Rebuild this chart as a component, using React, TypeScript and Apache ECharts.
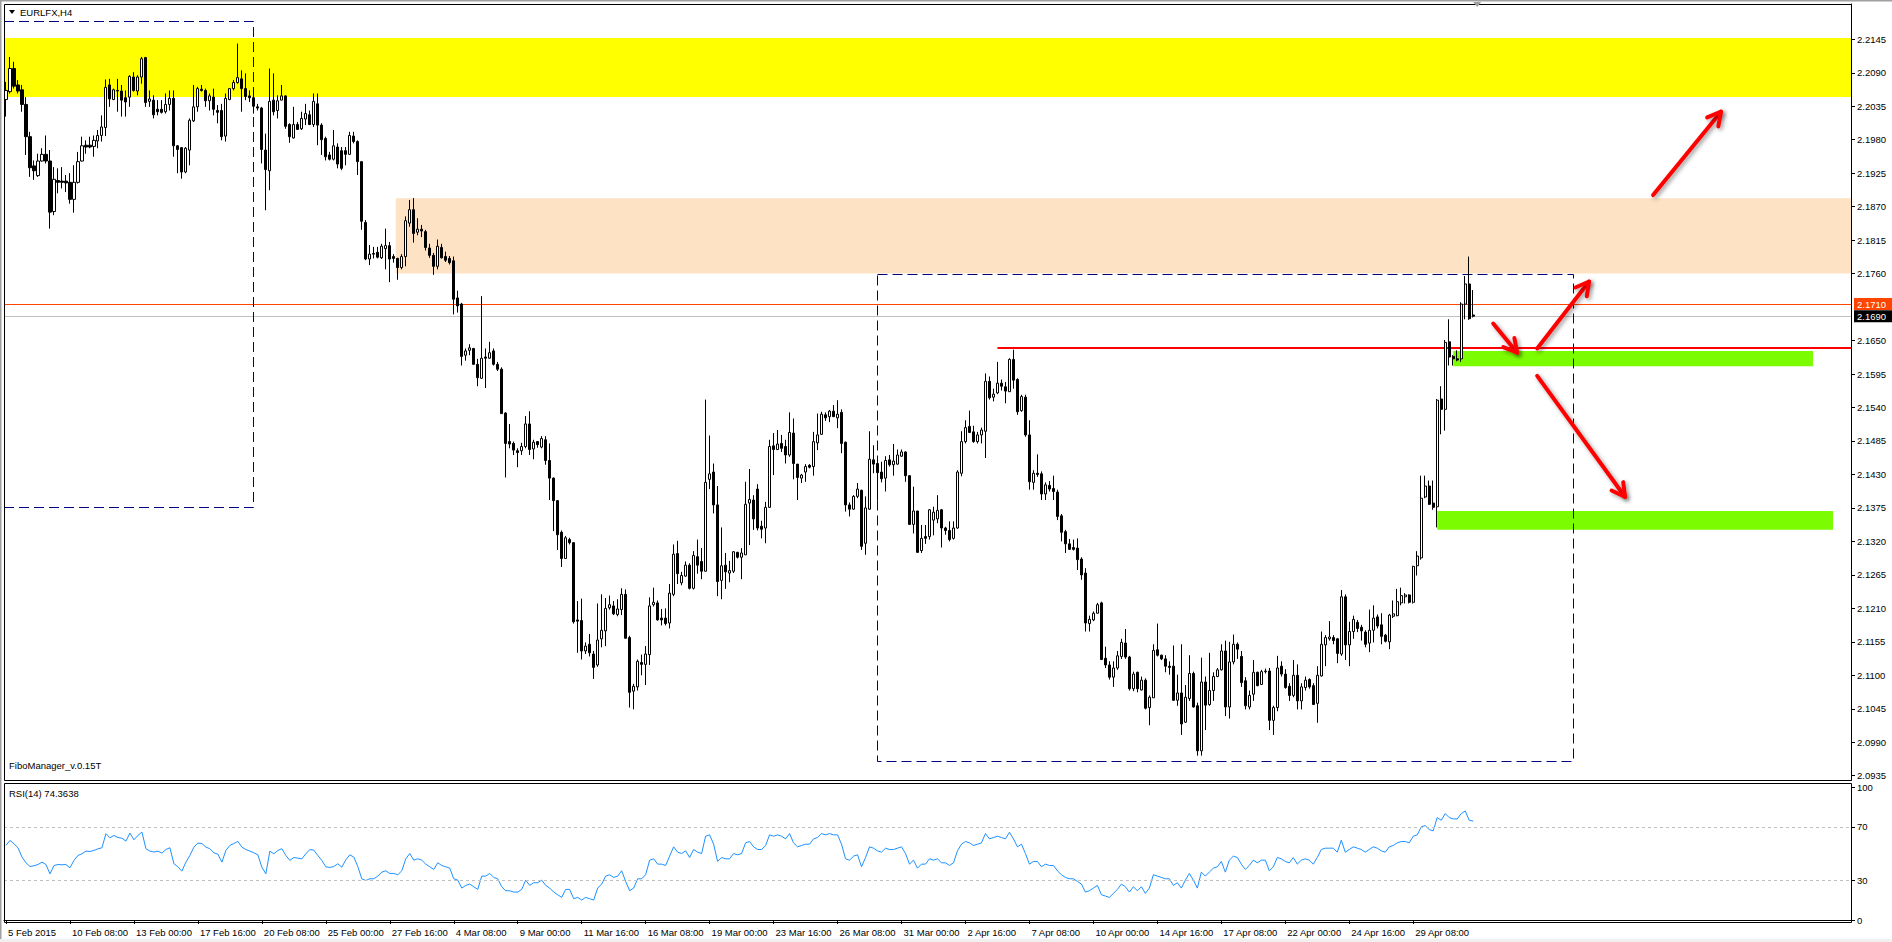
import React, { useEffect, useRef } from "react";
import * as echarts from "echarts";

// ---------- DATA ----------
// each bar: [open, high, low, close]  (EURLFX, H4)
const barsFeb: number[][] = [
  [2.2046,2.2075,2.2018,2.2061],[2.2059,2.2116,2.2056,2.2097],[2.2097,2.2108,2.2064,2.2068],[2.2070,2.2078,2.2056,2.2060],
  [2.2062,2.2070,2.2026,2.2038],[2.2038,2.2050,2.1955,2.1985],[2.1985,2.1993,2.1919,2.1934],[2.1937,2.1946,2.1914,2.1929],
  [2.1921,2.1957,2.1919,2.1945],[2.1945,2.1966,2.1944,2.1956],[2.1956,2.1987,2.1941,2.1945],[2.1945,2.1963,2.1834,2.1861],
  [2.1862,2.1935,2.1856,2.1915],[2.1913,2.1933,2.1892,2.1910],[2.1912,2.1935,2.1900,2.1910],[2.1912,2.1922,2.1894,2.1909],
  [2.1910,2.1925,2.1875,2.1882],[2.1882,2.1938,2.1860,2.1910],[2.1910,2.1960,2.1908,2.1944],[2.1945,2.1985,2.1944,2.1970],
  [2.1971,2.1979,2.1957,2.1968],[2.1971,2.1985,2.1966,2.1968],[2.1969,2.1987,2.1952,2.1979],[2.1978,2.1996,2.1966,2.1987],
  [2.1987,2.2020,2.1977,2.2001],[2.2000,2.2079,2.1986,2.2066],[2.2070,2.2080,2.2034,2.2047],[2.2046,2.2064,2.2045,2.2062],
  [2.2061,2.2080,2.2026,2.2060],[2.2060,2.2070,2.2018,2.2045],[2.2049,2.2061,2.2018,2.2042],[2.2050,2.2086,2.2034,2.2084],
  [2.2083,2.2091,2.2059,2.2061],[2.2060,2.2086,2.2053,2.2083],[2.2083,2.2116,2.2072,2.2113],[2.2115,2.2116,2.2034,2.2041],
  [2.2043,2.2061,2.2034,2.2047],[2.2045,2.2053,2.2015,2.2021],[2.2030,2.2045,2.2020,2.2026],[2.2030,2.2045,2.2023,2.2025],
  [2.2026,2.2056,2.2023,2.2038],[2.2038,2.2061,2.2028,2.2048],[2.2048,2.2061,2.1952,2.1970],[2.1970,2.1971,2.1925,2.1964],
  [2.1967,2.1968,2.1916,2.1927],[2.1927,2.1968,2.1925,2.1966],[2.1963,2.2015,2.1938,2.2012],[2.2011,2.2070,2.2009,2.2034],
  [2.2034,2.2067,2.2026,2.2064],[2.2063,2.2070,2.2059,2.2061],[2.2061,2.2064,2.2034,2.2044],[2.2044,2.2056,2.2028,2.2052],
  [2.2050,2.2064,2.2020,2.2030],[2.2028,2.2037,2.2007,2.2025],[2.2028,2.2039,2.1979,2.1985],[2.1986,2.2056,2.1977,2.2048],
  [2.2046,2.2064,2.2045,2.2064],[2.2064,2.2078,2.2061,2.2074],[2.2074,2.2138,2.2072,2.2082],[2.2080,2.2094,2.2026,2.2064],
  [2.2064,2.2089,2.2045,2.2051],[2.2052,2.2061,2.2042,2.2049],[2.2049,2.2064,2.2023,2.2035],[2.2034,2.2039,2.2028,2.2032],
  [2.2032,2.2034,2.1941,2.1964],[2.1963,2.1990,2.1864,2.1931],[2.1929,2.2097,2.1897,2.2043],[2.2045,2.2089,2.2020,2.2026],
  [2.2028,2.2053,2.2015,2.2044],[2.2045,2.2070,2.2045,2.2052],[2.2052,2.2053,2.1998,2.2002],[2.2005,2.2007,2.1975,2.1985],
  [2.1983,2.2034,2.1982,2.2005],[2.2005,2.2009,2.1996,2.1997],[2.1998,2.2026,2.1996,2.2015],[2.2014,2.2039,2.2004,2.2023],
  [2.2021,2.2028,2.2004,2.2005],[2.2005,2.2056,2.2001,2.2043],[2.2039,2.2056,2.1971,2.2004],[2.2004,2.2007,2.1955,2.1980],
  [2.1982,2.1985,2.1946,2.1952],[2.1955,2.1960,2.1946,2.1948],[2.1948,2.1996,2.1946,2.1970],[2.1968,2.1974,2.1933,2.1940],
  [2.1962,2.1968,2.1930,2.1933],[2.1962,2.1968,2.1938,2.1956],[2.1956,2.1993,2.1955,2.1987],[2.1986,2.1993,2.1974,2.1977],
  [2.1977,2.1979,2.1922,2.1944],[2.1944,2.1944,2.1832,2.1846],[2.1844,2.1848,2.1782,2.1784],[2.1784,2.1807,2.1774,2.1792],
  [2.1793,2.1804,2.1785,2.1792],[2.1795,2.1804,2.1785,2.1787],
];
const barsMar: number[][] = [
  [2.1786,2.1809,2.1784,2.1805],[2.1801,2.1834,2.1767,2.1806],[2.1806,2.1812,2.1746,2.1784],[2.1788,2.1792,2.1778,2.1785],
  [2.1785,2.1786,2.1750,2.1770],[2.1770,2.1792,2.1767,2.1788],[2.1788,2.1854,2.1772,2.1847],[2.1843,2.1881,2.1837,2.1865],
  [2.1865,2.1884,2.1811,2.1826],[2.1828,2.1851,2.1823,2.1833],[2.1833,2.1840,2.1820,2.1830],[2.1829,2.1832,2.1798,2.1803],
  [2.1802,2.1809,2.1786,2.1790],[2.1790,2.1794,2.1758,2.1772],[2.1772,2.1816,2.1767,2.1805],[2.1803,2.1809,2.1785,2.1786],
  [2.1788,2.1796,2.1779,2.1782],[2.1785,2.1789,2.1775,2.1778],[2.1781,2.1788,2.1693,2.1718],[2.1720,2.1732,2.1696,2.1707],
  [2.1710,2.1712,2.1609,2.1624],[2.1626,2.1637,2.1617,2.1633],[2.1634,2.1644,2.1626,2.1638],[2.1637,2.1638,2.1610,2.1611],
  [2.1611,2.1620,2.1575,2.1589],[2.1588,2.1723,2.1587,2.1621],[2.1623,2.1637,2.1572,2.1621],[2.1621,2.1648,2.1620,2.1630],
  [2.1633,2.1637,2.1609,2.1611],[2.1611,2.1615,2.1600,2.1603],[2.1603,2.1606,2.1530,2.1530],[2.1531,2.1532,2.1425,2.1481],
  [2.1484,2.1513,2.1473,2.1480],[2.1481,2.1484,2.1462,2.1470],[2.1469,2.1473,2.1442,2.1466],[2.1469,2.1482,2.1462,2.1476],
  [2.1476,2.1526,2.1473,2.1513],[2.1513,2.1534,2.1462,2.1471],[2.1472,2.1487,2.1455,2.1483],[2.1484,2.1485,2.1474,2.1479],
  [2.1475,2.1493,2.1473,2.1489],[2.1487,2.1493,2.1446,2.1453],[2.1453,2.1481,2.1388,2.1424],[2.1424,2.1425,2.1337,2.1387],
  [2.1387,2.1388,2.1306,2.1331],[2.1335,2.1338,2.1278,2.1292],[2.1292,2.1329,2.1292,2.1326],[2.1323,2.1326,2.1315,2.1318],
  [2.1318,2.1318,2.1185,2.1188],[2.1191,2.1222,2.1137,2.1189],[2.1190,2.1226,2.1126,2.1140],[2.1140,2.1154,2.1135,2.1148],
  [2.1151,2.1168,2.1131,2.1137],[2.1135,2.1140,2.1094,2.1113],[2.1117,2.1218,2.1114,2.1158],[2.1160,2.1233,2.1146,2.1174],
  [2.1173,2.1227,2.1148,2.1210],[2.1211,2.1231,2.1208,2.1216],[2.1214,2.1222,2.1199,2.1201],[2.1200,2.1225,2.1197,2.1209],
  [2.1208,2.1243,2.1199,2.1233],[2.1233,2.1241,2.1160,2.1161],[2.1162,2.1165,2.1047,2.1072],[2.1074,2.1086,2.1044,2.1082],
  [2.1081,2.1126,2.1075,2.1123],[2.1121,2.1134,2.1100,2.1118],[2.1118,2.1148,2.1084,2.1135],[2.1134,2.1228,2.1117,2.1214],
  [2.1216,2.1244,2.1213,2.1220],[2.1219,2.1223,2.1190,2.1191],[2.1194,2.1209,2.1182,2.1191],[2.1194,2.1210,2.1182,2.1185],
  [2.1186,2.1250,2.1177,2.1235],[2.1233,2.1315,2.1230,2.1299],[2.1300,2.1321,2.1250,2.1267],[2.1252,2.1270,2.1248,2.1264],
  [2.1263,2.1287,2.1262,2.1281],[2.1281,2.1284,2.1241,2.1243],[2.1243,2.1304,2.1241,2.1297],[2.1295,2.1323,2.1267,2.1281],
  [2.1287,2.1309,2.1258,2.1271],[2.1271,2.1553,2.1271,2.1417],[2.1422,2.1494,2.1406,2.1431],[2.1434,2.1448,2.1366,2.1380],
  [2.1380,2.1411,2.1230,2.1254],[2.1256,2.1343,2.1225,2.1280],[2.1281,2.1301,2.1242,2.1270],[2.1268,2.1288,2.1253,2.1272],
  [2.1271,2.1304,2.1268,2.1303],[2.1302,2.1303,2.1292,2.1294],
];
const barsApr1: number[][] = [
  [2.1294,2.1309,2.1258,2.1301],[2.1298,2.1418,2.1298,2.1381],[2.1383,2.1439,2.1314,2.1389],[2.1388,2.1396,2.1339,2.1357],
  [2.1406,2.1414,2.1338,2.1342],[2.1345,2.1354,2.1325,2.1340],[2.1342,2.1385,2.1317,2.1376],[2.1376,2.1487,2.1375,2.1476],
  [2.1477,2.1498,2.1429,2.1471],[2.1471,2.1503,2.1470,2.1480],[2.1481,2.1495,2.1467,2.1473],[2.1476,2.1487,2.1448,2.1462],
  [2.1462,2.1532,2.1459,2.1499],[2.1498,2.1522,2.1422,2.1448],[2.1447,2.1447,2.1388,2.1425],[2.1424,2.1431,2.1416,2.1429],
  [2.1434,2.1447,2.1418,2.1443],[2.1445,2.1447,2.1440,2.1442],[2.1443,2.1500,2.1428,2.1484],[2.1482,2.1530,2.1470,2.1495],
  [2.1496,2.1533,2.1495,2.1529],[2.1528,2.1532,2.1518,2.1523],[2.1525,2.1536,2.1516,2.1534],[2.1534,2.1544,2.1525,2.1525],
  [2.1523,2.1552,2.1506,2.1529],[2.1532,2.1537,2.1465,2.1481],[2.1483,2.1484,2.1369,2.1380],[2.1380,2.1384,2.1361,2.1373],
  [2.1373,2.1396,2.1372,2.1394],[2.1394,2.1416,2.1391,2.1406],[2.1404,2.1405,2.1306,2.1312],[2.1317,2.1394,2.1298,2.1375],
  [2.1373,2.1501,2.1372,2.1455],[2.1454,2.1478,2.1432,2.1447],[2.1448,2.1453,2.1387,2.1433],[2.1434,2.1451,2.1417,2.1423],
  [2.1424,2.1460,2.1402,2.1453],[2.1454,2.1462,2.1443,2.1446],[2.1446,2.1480,2.1428,2.1452],[2.1447,2.1471,2.1446,2.1462],
  [2.1460,2.1471,2.1459,2.1467],[2.1467,2.1468,2.1418,2.1428],[2.1428,2.1428,2.1347,2.1348],[2.1348,2.1410,2.1333,2.1370],
  [2.1370,2.1370,2.1301,2.1302],[2.1305,2.1347,2.1301,2.1325],[2.1328,2.1347,2.1316,2.1325],[2.1328,2.1373,2.1323,2.1372],
  [2.1355,2.1377,2.1330,2.1368],[2.1357,2.1396,2.1350,2.1371],[2.1372,2.1373,2.1310,2.1342],[2.1342,2.1344,2.1331,2.1338],
  [2.1338,2.1353,2.1320,2.1323],[2.1325,2.1353,2.1323,2.1342],[2.1342,2.1437,2.1341,2.1434],[2.1432,2.1501,2.1427,2.1484],
  [2.1484,2.1519,2.1481,2.1507],[2.1509,2.1535,2.1498,2.1499],[2.1500,2.1510,2.1482,2.1484],[2.1484,2.1500,2.1481,2.1495],
  [2.1495,2.1507,2.1481,2.1503],[2.1501,2.1596,2.1457,2.1583],[2.1583,2.1591,2.1553,2.1556],[2.1557,2.1571,2.1550,2.1562],
  [2.1564,2.1615,2.1562,2.1580],[2.1580,2.1586,2.1568,2.1575],[2.1574,2.1582,2.1547,2.1567],[2.1566,2.1621,2.1566,2.1619],
  [2.1619,2.1635,2.1571,2.1585],[2.1586,2.1588,2.1528,2.1533],[2.1535,2.1561,2.1533,2.1558],[2.1557,2.1561,2.1492,2.1495],
  [2.1495,2.1519,2.1405,2.1418],[2.1417,2.1437,2.1405,2.1432],[2.1432,2.1463,2.1426,2.1430],[2.1431,2.1435,2.1388,2.1398],
  [2.1398,2.1417,2.1388,2.1413],[2.1412,2.1419,2.1402,2.1406],[2.1407,2.1428,2.1388,2.1402],[2.1401,2.1405,2.1355,2.1361],
  [2.1362,2.1365,2.1320,2.1335],[2.1336,2.1339,2.1301,2.1316],[2.1316,2.1324,2.1306,2.1307],[2.1310,2.1323,2.1305,2.1307],
  [2.1309,2.1325,2.1273,2.1290],[2.1291,2.1294,2.1257,2.1265],[2.1268,2.1276,2.1172,2.1186],[2.1185,2.1198,2.1172,2.1192],
  [2.1191,2.1205,2.1189,2.1202],[2.1202,2.1219,2.1202,2.1216],[2.1219,2.1221,2.1125,2.1126],[2.1128,2.1147,2.1112,2.1117],
  [2.1117,2.1123,2.1093,2.1097],[2.1097,2.1123,2.1081,2.1112],
];
const barsApr2: number[][] = [
  [2.1112,2.1140,2.1109,2.1132],[2.1131,2.1160,2.1127,2.1154],[2.1153,2.1176,2.1127,2.1130],[2.1130,2.1132,2.1075,2.1078],
  [2.1078,2.1106,2.1074,2.1102],[2.1105,2.1106,2.1072,2.1078],[2.1076,2.1098,2.1075,2.1092],[2.1092,2.1095,2.1044,2.1046],
  [2.1047,2.1067,2.1018,2.1064],[2.1063,2.1151,2.1063,2.1141],[2.1142,2.1185,2.1131,2.1133],[2.1133,2.1134,2.1125,2.1127],
  [2.1127,2.1133,2.1105,2.1115],[2.1115,2.1123,2.1101,2.1113],[2.1115,2.1149,2.1058,2.1059],[2.1059,2.1101,2.1050,2.1071],
  [2.1071,2.1151,2.1002,2.1020],[2.1023,2.1084,2.1022,2.1064],[2.1062,2.1133,2.1058,2.1103],[2.1103,2.1106,2.1047,2.1048],
  [2.1050,2.1055,2.0968,2.0976],[2.0976,2.1129,2.0968,2.1089],[2.1089,2.1098,2.1010,2.1051],[2.1052,2.1137,2.1050,2.1075],
  [2.1075,2.1105,2.1058,2.1098],[2.1098,2.1112,2.1097,2.1109],[2.1109,2.1151,2.1108,2.1140],[2.1140,2.1157,2.1033,2.1048],
  [2.1048,2.1155,2.1029,2.1122],[2.1122,2.1167,2.1118,2.1151],[2.1151,2.1154,2.1127,2.1143],[2.1131,2.1140,2.1081,2.1088],
  [2.1091,2.1097,2.1044,2.1050],[2.1048,2.1075,2.1044,2.1067],[2.1069,2.1125,2.1058,2.1105],[2.1105,2.1106,2.1082,2.1083],
  [2.1085,2.1109,2.1084,2.1106],[2.1106,2.1111,2.1103,2.1107],[2.1107,2.1112,2.1010,2.1026],[2.1026,2.1050,2.1002,2.1047],
  [2.1047,2.1132,2.1041,2.1112],[2.1115,2.1123,2.1098,2.1102],[2.1102,2.1110,2.1078,2.1080],[2.1082,2.1087,2.1058,2.1067],
  [2.1067,2.1125,2.1064,2.1100],[2.1100,2.1118,2.1044,2.1058],[2.1058,2.1087,2.1044,2.1081],[2.1080,2.1098,2.1075,2.1092],
  [2.1093,2.1095,2.1078,2.1081],[2.1083,2.1087,2.1052,2.1052],[2.1054,2.1115,2.1022,2.1100],[2.1099,2.1172,2.1098,2.1151],
  [2.1150,2.1166,2.1115,2.1162],[2.1160,2.1189,2.1157,2.1163],[2.1162,2.1166,2.1151,2.1157],[2.1160,2.1161,2.1120,2.1136],
  [2.1135,2.1240,2.1132,2.1229],[2.1229,2.1233,2.1125,2.1150],[2.1150,2.1188,2.1115,2.1172],[2.1172,2.1198,2.1160,2.1192],
  [2.1187,2.1191,2.1171,2.1177],[2.1179,2.1183,2.1157,2.1173],[2.1171,2.1174,2.1146,2.1151],[2.1153,2.1208,2.1138,2.1174],
  [2.1174,2.1215,2.1154,2.1194],[2.1196,2.1200,2.1177,2.1181],[2.1183,2.1202,2.1151,2.1164],[2.1166,2.1168,2.1154,2.1156],
  [2.1155,2.1201,2.1143,2.1199],[2.1197,2.1223,2.1194,2.1201],[2.1198,2.1242,2.1197,2.1221],[2.1219,2.1244,2.1215,2.1231],
  [2.1229,2.1235,2.1218,2.1232],[2.1232,2.1233,2.1218,2.1220],[2.1220,2.1280,2.1218,2.1279],[2.1280,2.1304,2.1264,2.1296],
  [2.1293,2.1428,2.1290,2.1391],[2.1393,2.1428,2.1391,2.1411],[2.1411,2.1420,2.1380,2.1381],[2.1383,2.1420,2.1372,2.1376],
  [2.1377,2.1554,2.1343,2.1552],[2.1554,2.1575,2.1496,2.1537],[2.1537,2.1651,2.1502,2.1647],[2.1648,2.1685,2.1609,2.1623],
  [2.1624,2.1626,2.1609,2.1620],[2.1620,2.1634,2.1616,2.1618],[2.1620,2.1713,2.1615,2.1710],[2.1710,2.1756,2.1685,2.1743],
  [2.1743,2.1788,2.1684,2.1686],[2.1692,2.1733,2.1688,2.1690],
];

// RSI(14) values
const rsiFeb: number[] = [
  56.1,59.8,57.3,54.3,47.3,43.0,40.2,40.8,41.7,43.5,41.7,34.7,41.0,41.7,41.5,41.7,39.2,44.8,48.5,49.8,
  51.8,51.5,52.3,53.5,54.3,64.9,61.8,63.6,62.0,61.5,59.3,65.4,60.3,63.6,66.1,53.6,51.8,51.1,51.8,50.3,
  53.0,54.3,42.3,40.0,36.7,43.5,48.5,54.8,57.8,57.5,54.8,53.6,50.5,49.5,43.5,52.3,56.1,57.5,59.1,54.8,
  53.0,51.8,50.5,49.0,39.7,34.7,51.8,49.8,52.3,53.6,48.5,44.8,47.0,46.5,46.0,49.8,53.0,52.5,48.5,44.8,
  40.0,39.5,40.2,42.3,39.7,45.3,49.0,47.3,40.2,30.9,29.7,31.0,
];
const rsiMar: number[] = [
  31,33,36,37,35,35,34,37,46,50,45,46,45,42,40,38,43,41,40,39,
  31,30,24,26,27,25,23,33,33,35,32,31,25,22,22,21,21,23,30,26,28,28,30,26,
  24,21,19,17,23,23,16,17,15,17,16,15,24,27,33,34,32,33,37,29,22,24,31,31,34,
  45,46,42,42,41,48,55,51,50,52,47,53,51,50,63,64,57,44,47,46,46,50,
];
const rsiApr1: number[] = [
  49,50,58,59,55,53,53,56,64,63,64,63,61,65,58,55,56,57,57,61,62,65,64,65,64,64,57,
  46,45,48,49,40,47,55,54,52,51,54,53,53,54,55,50,42,45,39,42,42,
  46,45,46,43,43,41,43,52,57,59,58,56,57,58,65,61,62,63,62,61,66,61,55,57,50,42,
  44,44,40,42,41,41,37,34,32,31,31,29,27,21,22,24,26,19,18,17,20,
];
const rsiApr2: number[] = [
  23,27,25,21,25,22,25,20,24,34,33,32,31,31,26,28,24,30,35,30,24,36,33,
  36,39,40,44,36,45,48,47,42,38,41,45,43,45,45,37,40,47,46,44,43,47,42,45,46,45,42,47,53,54,54,54,51,
  60,51,53,55,54,53,51,53,55,54,52,51,55,56,58,59,59,58,63,64,
  70,71,68,67,77,75,80,77,76,76,80,82,75,74.4,
];

const tickLabels = [
  "5 Feb 2015","10 Feb 08:00","13 Feb 00:00","17 Feb 16:00","20 Feb 08:00","25 Feb 00:00","27 Feb 16:00",
  "4 Mar 08:00","9 Mar 00:00","11 Mar 16:00","16 Mar 08:00","19 Mar 00:00","23 Mar 16:00","26 Mar 08:00",
  "31 Mar 00:00","2 Apr 16:00","7 Apr 08:00","10 Apr 00:00","14 Apr 16:00","17 Apr 08:00","22 Apr 00:00",
  "24 Apr 16:00","29 Apr 08:00",
];
const priceTicks = [
  2.2145,2.2090,2.2035,2.1980,2.1925,2.1870,2.1815,2.1760,2.1650,2.1595,2.1540,
  2.1485,2.1430,2.1375,2.1320,2.1265,2.1210,2.1155,2.1100,2.1045,2.0990,2.0935,
];
const rsiTicks = [0, 30, 70, 100];
const rsiLevels = [70, 30];
const lastPrices = [2.1710, 2.1690]; // ask line, bid line
const rsiLast = "74.3638";

// chart objects (bar index, price)
const yellowZone = [2.2050, 2.2147];
const peachZone = [2.1760, 2.1884];
const peachStartBar = 98;
const leftBox = { endBar: 62, top: 2.2175, bottom: 2.1375 };
const rightBox = { startBar: 218, endBar: 392, top: 2.1758, bottom: 2.0959 };
const greenUpper = { startBar: 362, endBar: 452, top: 2.1633, bottom: 2.1608 };
const greenLower = { startBar: 358, endBar: 457, top: 2.1370, bottom: 2.1339 };
const redLevel = { startBar: 248, price: 2.1637 };
const arrowTails = [[412, 2.1889], [383, 2.1637], [372, 2.1678], [383, 2.1592]];
const arrowTips = [[429, 2.2026], [396, 2.1747], [378, 2.1630], [405, 2.1393]];

// ---------- LAYOUT ----------
const SLOTS = 462;
const GL = 4, GR = 1851;
const MAIN_TOP = 4, MAIN_BOTTOM = 780;
const RSI_BOX_TOP = 783, RSI_TOP = 787, RSI_BOTTOM = 920, RSI_BOX_BOTTOM = 922;
const FONT = "'Liberation Sans', Arial, sans-serif";

function buildCategories(n: number): string[] {
  const months = ["Jan","Feb","Mar","Apr","May","Jun","Jul","Aug","Sep","Oct","Nov","Dec"];
  const out: string[] = [];
  let t = Date.UTC(2015, 1, 5, 16);
  while (out.length < n) {
    const d = new Date(t);
    const wd = d.getUTCDay();
    if (wd !== 0 && wd !== 6) {
      if (out.length === 0) out.push(tickLabels[0]);
      else {
        const h = String(d.getUTCHours()).padStart(2, "0");
        out.push(`${d.getUTCDate()} ${months[d.getUTCMonth()]} ${h}:00`);
      }
    }
    t += 4 * 3600 * 1000;
  }
  return out;
}

const crisp = (v: number) => Math.round(v - 0.5) + 0.5;

export default function App() {
  const ref = useRef<HTMLDivElement>(null);
  useEffect(() => {
    const el = ref.current;
    if (!el) return;
    const chart = echarts.init(el, undefined, { renderer: "svg" });
    const bars = [...barsFeb, ...barsMar, ...barsApr1, ...barsApr2];
    const rsi = [...rsiFeb, ...rsiMar, ...rsiApr1, ...rsiApr2];
    const cats = buildCategories(SLOTS);
    const tickSet = new Set(tickLabels);
    const showTick = (_i: number, v: string) => tickSet.has(v);

    const option: any = {
      animation: false,
      backgroundColor: "#ffffff",
      grid: [
        { left: GL, top: MAIN_TOP, width: GR - GL, height: MAIN_BOTTOM - MAIN_TOP },
        { left: GL, top: RSI_TOP, width: GR - GL, height: RSI_BOTTOM - RSI_TOP },
      ],
      xAxis: [
        { type: "category", gridIndex: 0, data: cats, show: false, boundaryGap: true },
        {
          type: "category", gridIndex: 1, data: cats, boundaryGap: true, offset: RSI_BOX_BOTTOM - RSI_BOTTOM,
          axisLine: { show: true, lineStyle: { color: "#000", width: 1 } },
          axisTick: { show: true, alignWithLabel: true, length: 4, interval: showTick, lineStyle: { color: "#000" } },
          axisLabel: { show: true, interval: showTick, align: "left", margin: 5, color: "#000", fontSize: 9.5, fontFamily: FONT, padding: [0, 0, 0, 2] },
          splitLine: { show: false },
        },
      ],
      yAxis: [
        {
          type: "value", gridIndex: 0, position: "right", min: 2.0928, max: 2.2203,
          axisLine: { show: true, lineStyle: { color: "#000" } },
          axisTick: { show: true, length: 4, customValues: priceTicks, lineStyle: { color: "#000" } },
          axisLabel: { customValues: priceTicks, formatter: (v: number) => v.toFixed(4), margin: 6, color: "#000", fontSize: 9.5, fontFamily: FONT },
          splitLine: { show: false },
        },
        {
          type: "value", gridIndex: 1, position: "right", min: 0, max: 100,
          axisLine: { show: true, lineStyle: { color: "#000" } },
          axisTick: { show: true, length: 4, customValues: rsiTicks, lineStyle: { color: "#000" } },
          axisLabel: { customValues: rsiTicks, margin: 6, color: "#000", fontSize: 9.5, fontFamily: FONT },
          splitLine: { show: false },
        },
      ],
      series: [
        {
          type: "candlestick", xAxisIndex: 0, yAxisIndex: 0, z: 5,
          data: bars.map((b) => [b[0], b[3], b[2], b[1]]),
          barWidth: 2.6,
          itemStyle: { color: "#ffffff", color0: "#000000", borderColor: "#000000", borderColor0: "#000000", borderWidth: 1 },
        },
        {
          type: "line", xAxisIndex: 1, yAxisIndex: 1, data: rsi, showSymbol: false, symbol: "none",
          lineStyle: { color: "#1E90FF", width: 1 },
          markLine: {
            silent: true, symbol: "none", label: { show: false },
            lineStyle: { color: "#C0C0C0", type: [3, 3], width: 1 },
            data: rsiLevels.map((v) => ({ yAxis: v })),
          },
        },
      ],
    };
    chart.setOption(option);

    const toPx = (i: number, p: number) => chart.convertToPixel({ gridIndex: 0 }, [i, p]) as number[];
    const xOf = (i: number) => toPx(i, priceTicks[0])[0];
    const yOf = (p: number) => toPx(0, p)[1];
    const boxStroke = "#000080";
    const dash = [10, 5];

    const g: any[] = [];
    // zones
    g.push({ type: "rect", z: 0, shape: { x: GL, y: yOf(yellowZone[1]), width: GR - GL, height: yOf(yellowZone[0]) - yOf(yellowZone[1]) }, style: { fill: "#FFFF00" } });
    const px0 = xOf(peachStartBar) - 2;
    g.push({ type: "rect", z: 0, shape: { x: px0, y: yOf(peachZone[1]), width: GR - px0, height: yOf(peachZone[0]) - yOf(peachZone[1]) }, style: { fill: "#FDE3C3" } });
    [greenUpper, greenLower].forEach((b) => {
      const x1 = xOf(b.startBar), x2 = xOf(b.endBar);
      g.push({ type: "rect", z: 0, shape: { x: x1, y: yOf(b.top), width: x2 - x1, height: yOf(b.bottom) - yOf(b.top) }, style: { fill: "#7CFC00" } });
    });
    // price lines
    const ya = crisp(yOf(lastPrices[0])), yb = crisp(yOf(lastPrices[1]));
    g.push({ type: "line", z: 1, shape: { x1: GL, y1: ya, x2: GR, y2: ya }, style: { stroke: "#FF4500", lineWidth: 1 } });
    g.push({ type: "line", z: 1, shape: { x1: GL, y1: yb, x2: GR, y2: yb }, style: { stroke: "#C0C0C0", lineWidth: 1 } });
    const yr = Math.round(yOf(redLevel.price));
    g.push({ type: "line", z: 1, shape: { x1: xOf(redLevel.startBar), y1: yr, x2: GR, y2: yr }, style: { stroke: "#FF0000", lineWidth: 2 } });
    // dashed boxes
    const lx = crisp(xOf(leftBox.endBar));
    const lt = crisp(yOf(leftBox.top)), lb = crisp(yOf(leftBox.bottom));
    g.push({ type: "polyline", z: 1, shape: { points: [[GL, lt], [lx, lt], [lx, lb], [GL, lb]] }, style: { stroke: boxStroke, lineWidth: 1, lineDash: dash, fill: null } });
    const rx1 = crisp(xOf(rightBox.startBar)), rx2 = crisp(xOf(rightBox.endBar));
    const rt = crisp(yOf(rightBox.top)), rb = crisp(yOf(rightBox.bottom));
    g.push({ type: "rect", z: 1, shape: { x: rx1, y: rt, width: rx2 - rx1, height: rb - rt }, style: { stroke: boxStroke, lineWidth: 1, lineDash: dash, fill: null } });
    // arrows
    const arrowStyle = { stroke: "#FF0000", lineWidth: 4, lineCap: "round", lineJoin: "round", shadowBlur: 4, shadowColor: "rgba(0,0,0,0.4)", shadowOffsetX: 2, shadowOffsetY: 2, fill: null };
    arrowTails.forEach((t, k) => {
      const [x1, y1] = toPx(t[0], t[1]);
      const [x2, y2] = toPx(arrowTips[k][0], arrowTips[k][1]);
      const ang = Math.atan2(y2 - y1, x2 - x1);
      const L = 15, sp = 0.5;
      const h1 = [x2 - L * Math.cos(ang - sp), y2 - L * Math.sin(ang - sp)];
      const h2 = [x2 - L * Math.cos(ang + sp), y2 - L * Math.sin(ang + sp)];
      g.push({ type: "line", z: 20, shape: { x1, y1, x2, y2 }, style: arrowStyle });
      g.push({ type: "polyline", z: 20, shape: { points: [h1, [x2, y2], h2] }, style: arrowStyle });
    });
    // panel frames
    g.push({ type: "rect", z: 30, shape: { x: GL + 0.5, y: MAIN_TOP + 0.5, width: GR - GL, height: MAIN_BOTTOM - MAIN_TOP }, style: { stroke: "#000", lineWidth: 1, fill: null } });
    g.push({ type: "rect", z: 30, shape: { x: GL + 0.5, y: RSI_BOX_TOP + 0.5, width: GR - GL, height: RSI_BOX_BOTTOM - RSI_BOX_TOP }, style: { stroke: "#000", lineWidth: 1, fill: null } });
    // window edges
    g.push({ type: "rect", z: 30, shape: { x: 0, y: 0, width: 1892, height: 1.5 }, style: { fill: "#A0A0A0" } });
    g.push({ type: "rect", z: 30, shape: { x: 0, y: 0, width: 1.5, height: 942 }, style: { fill: "#A0A0A0" } });
    g.push({ type: "rect", z: 30, shape: { x: 0, y: 939, width: 1892, height: 3 }, style: { fill: "#F0F0F0" } });
    // shift marker
    const sx = xOf(bars.length);
    g.push({ type: "polygon", z: 30, shape: { points: [[sx - 4, 2], [sx + 4, 2], [sx, 7]] }, style: { fill: "#A0A0A0" } });
    // texts
    g.push({ type: "polygon", z: 30, shape: { points: [[9, 10], [15, 10], [12, 14]] }, style: { fill: "#000" } });
    g.push({ type: "text", z: 30, x: 20, y: 12, style: { text: "EURLFX,H4", fill: "#000", font: `9.5px ${FONT}`, verticalAlign: "middle" } });
    g.push({ type: "text", z: 30, x: 9, y: 765, style: { text: "FiboManager_v.0.15T", fill: "#000", font: `9.5px ${FONT}`, verticalAlign: "middle" } });
    g.push({ type: "text", z: 30, x: 9, y: 793, style: { text: `RSI(14) ${rsiLast}`, fill: "#000", font: `9.5px ${FONT}`, verticalAlign: "middle" } });
    // last price tags
    const tagBg = ["#FF4500", "#000000"];
    lastPrices.forEach((p, k) => {
      const y = yOf(p);
      g.push({ type: "rect", z: 40, shape: { x: GR + 3, y: y - 6, width: 1892 - GR - 3, height: 12 }, style: { fill: tagBg[k] } });
      g.push({ type: "text", z: 41, x: GR + 6, y, style: { text: p.toFixed(4), fill: "#fff", font: `9.5px ${FONT}`, verticalAlign: "middle" } });
    });

    chart.setOption({ graphic: g });
    return () => chart.dispose();
  }, []);

  return <div ref={ref} style={{ position: "absolute", left: 0, top: 0, width: 1892, height: 942 }} />;
}
